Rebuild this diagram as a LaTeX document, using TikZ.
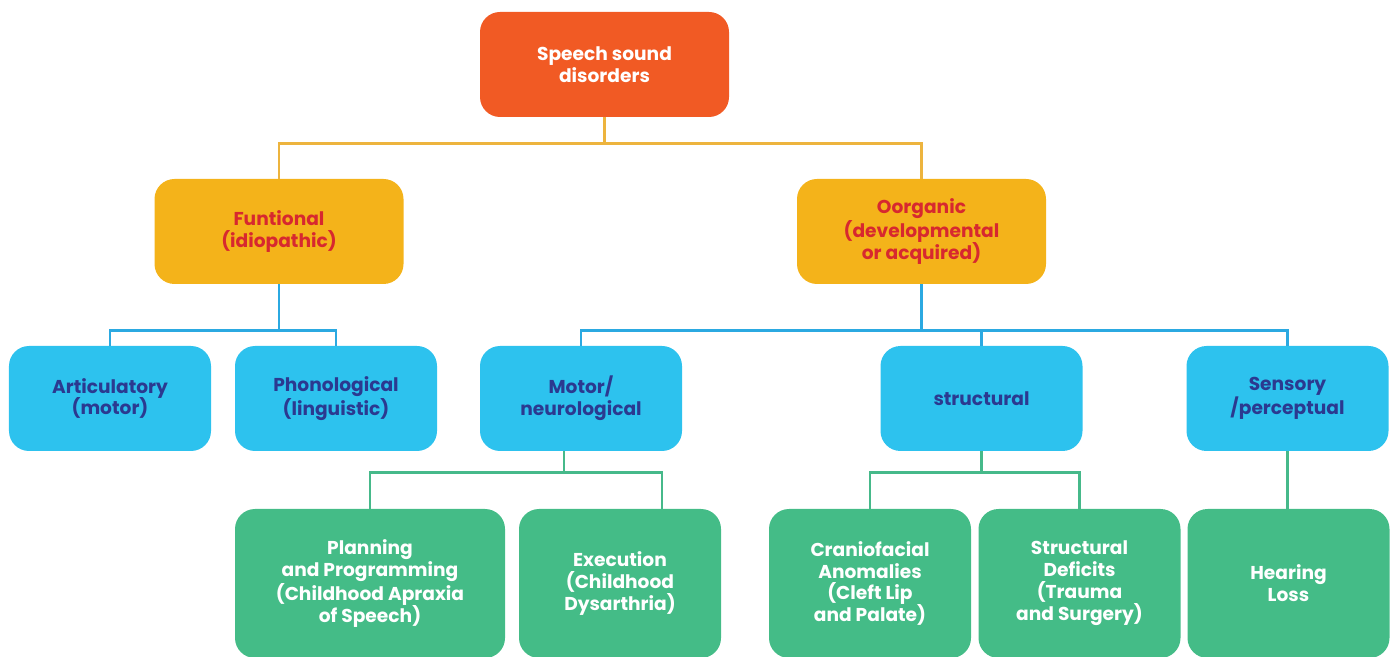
\documentclass[tikz,border=0pt]{standalone}
\usepackage{fontspec}
\setmainfont{Poppins}
\usepackage{tikz}
\usetikzlibrary{shapes.geometric, positioning}
\definecolor{rootorange}{HTML}{F15A24}
\definecolor{midyellow}{HTML}{F4B31A}
\definecolor{catblue}{HTML}{2DC2EE}
\definecolor{subgreen}{HTML}{44BC87}
\definecolor{navytext}{HTML}{2B3990}
\definecolor{redtext}{HTML}{D7282F}
\definecolor{yline}{HTML}{EDB43E}
\definecolor{bline}{HTML}{2BA9E1}
\definecolor{gline}{HTML}{46B98A}
\tikzstyle{box} = [font=\fontsize{10.6}{12.5}\selectfont\bfseries, rectangle, rounded corners=0.4cm, align=center, inner sep=0pt]
\tikzstyle{top} = [box, minimum width=4.98cm, minimum height=2.1cm, fill=rootorange, text=white]
\tikzstyle{branch} = [box, minimum width=4.98cm, minimum height=2.1cm, fill=midyellow, text=redtext]
\tikzstyle{kind} = [box, minimum width=4.04cm, minimum height=2.1cm, fill=catblue, text=navytext]
\tikzstyle{leaf} = [box, minimum width=4.04cm, minimum height=2.98cm, fill=subgreen, text=white]
\tikzstyle{ylink} = [line width=1.4pt, draw=yline]
\tikzstyle{blink} = [line width=1.4pt, draw=bline]
\tikzstyle{glink} = [line width=1.4pt, draw=gline]

\begin{document}
\begin{tikzpicture}
\useasboundingbox (0,0) rectangle (27.9,-13.14);
  \node (ssd) [top] at (12.09,-1.29) {Speech sound\\disorders};
  \node (func) [branch, below of=ssd, xshift=-6.51cm, yshift=-2.34cm] {Funtional\\(idiopathic)};
  \node (org) [branch, right of=func, xshift=11.85cm] {Oorganic\\(developmental\\or acquired)};
  \node (artic) [kind, below of=func, xshift=-3.38cm, yshift=-2.34cm] {Articulatory\\(motor)};
  \node (phon) [kind, right of=artic, xshift=3.52cm] {Phonological\\(linguistic)};
  \node (motor) [kind, right of=phon, xshift=3.9cm] {Motor/\\neurological};
  \node (struct) [kind, right of=motor, xshift=7.01cm] {structural};
  \node (sens) [kind, right of=struct, xshift=5.12cm] {Sensory\\/perceptual};
  \node (plan) [leaf, minimum width=5.4cm, below of=motor, xshift=-4.22cm, yshift=-2.7cm] {Planning\\and Programming\\(Childhood Apraxia\\of Speech)};
  \node (exec) [leaf, right of=plan, xshift=4cm] {Execution\\(Childhood\\Dysarthria)};
  \node (cranio) [leaf, right of=exec, xshift=4cm] {Craniofacial\\Anomalies\\(Cleft Lip\\and Palate)};
  \node (sdef) [leaf, right of=cranio, xshift=3.19cm] {Structural\\Deficits\\(Trauma\\and Surgery)};
  \node (hear) [leaf, right of=sdef, xshift=3.18cm] {Hearing\\Loss};

  % level 1
  \draw[ylink] (ssd.south) -- ++(0,-0.52) -| (func.north);
  \draw[ylink] (ssd.south) -- ++(0,-0.52) -| (org.north);
  % level 2
  \draw[blink] (func.south) -- ++(0,-0.92) -| (artic.north);
  \draw[blink] (func.south) -- ++(0,-0.92) -| (phon.north);
  \draw[blink] (org.south) -- ++(0,-0.92) -| (motor.north);
  \draw[blink] (org.south) -- ++(0,-0.92) -| (struct.north);
  \draw[blink] (org.south) -- ++(0,-0.92) -| (sens.north);
  % level 3
  \draw[glink] ([xshift=-0.34cm]motor.south) -- ++(0,-0.42) -| (plan.north);
  \draw[glink] ([xshift=-0.34cm]motor.south) -- ++(0,-0.42) -| ([xshift=0.84cm]exec.north);
  \draw[glink] (struct.south) -- ++(0,-0.42) -| (cranio.north);
  \draw[glink] (struct.south) -- ++(0,-0.42) -| (sdef.north);
  \draw[glink] (sens.south) -- (sens.south |- hear.north);
\end{tikzpicture}
\end{document}
